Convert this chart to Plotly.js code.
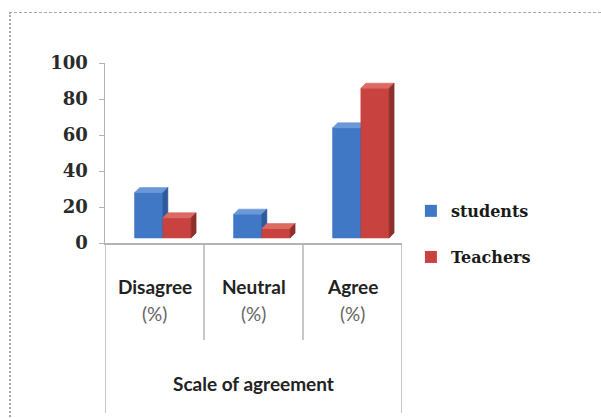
<!DOCTYPE html>
<html>
<head>
<meta charset="utf-8">
<script src="https://cdn.plot.ly/plotly-3.0.1.min.js"></script>
<style>
  html, body { margin: 0; padding: 0; background: #fff; overflow: hidden; }
  #chart { position: absolute; left: 0; top: 0; width: 601px; height: 418px; }
  #frame {
    position: absolute; left: 9px; top: 12px; width: 640px; height: 460px;
    border-top: 1px dashed #a8a8a8; border-left: 2px dotted #a8a8a8;
    pointer-events: none;
  }
</style>
</head>
<body>
<div id="chart"></div>
<div id="frame"></div>
<script>
// Survey responses by scale of agreement, in percent
const categories = ["Disagree", "Neutral", "Agree"];
const unitLabel = "(%)";
const students = [28, 16, 64];
const teachers = [14, 8, 86];
const axisTitle = "Scale of agreement";
const yTicks = [0, 20, 40, 60, 80, 100];

// Pseudo-3D column geometry (data units)
const FLOOR = 2.8;        // front face sits slightly above the axis floor
const DEPTH_X = 0.05;     // receding depth, horizontal
const DEPTH_Y = 2.8;      // receding depth, vertical
const BAR_W = 0.285;
const OFFSETS = { students: -0.2, teachers: 0.085 };

const palette = {
  students: { front: "#4178c6", top: "#6a98d8", side: "#2d5a9a" },
  teachers: { front: "#c8433f", top: "#dc6a62", side: "#8e2f2c" }
};

const xs = categories.map((_, i) => i);

// Build polygons (separated by nulls) for one face of every column in a series
function facePolygons(values, offset, face) {
  const px = [], py = [];
  values.forEach((v, i) => {
    const x0 = i + offset, x1 = x0 + BAR_W;
    let pts;
    if (face === "front") {
      pts = [[x0, FLOOR], [x0, v], [x1, v], [x1, FLOOR]];
    } else if (face === "top") {
      pts = [[x0, v], [x0 + DEPTH_X, v + DEPTH_Y], [x1 + DEPTH_X, v + DEPTH_Y], [x1, v]];
    } else {
      pts = [[x1, FLOOR], [x1, v], [x1 + DEPTH_X, v + DEPTH_Y], [x1 + DEPTH_X, FLOOR + DEPTH_Y]];
    }
    pts.push(pts[0]);
    pts.forEach(p => { px.push(p[0]); py.push(p[1]); });
    px.push(null); py.push(null);
  });
  return { x: px, y: py };
}

const traces = [];
const series = [
  { key: "students", name: "students", values: students, legend: "legend" },
  { key: "teachers", name: "Teachers", values: teachers, legend: "legend2" }
];

// Flat columns carry the legend entries; the faces are painted over them
series.forEach(s => {
  traces.push({
    type: "bar", name: s.name, x: xs,
    y: s.values.map(v => v - FLOOR), base: FLOOR,
    width: BAR_W, offset: OFFSETS[s.key],
    marker: { color: palette[s.key].front, line: { width: 0 } },
    legend: s.legend, hoverinfo: "skip"
  });
});

series.forEach(s => {
  ["front", "top", "side"].forEach(face => {
    const poly = facePolygons(s.values, OFFSETS[s.key], face);
    traces.push({
      type: "scatter", mode: "lines", x: poly.x, y: poly.y,
      fill: "toself", fillcolor: palette[s.key][face],
      line: { width: 0.6, color: palette[s.key][face] },
      connectgaps: false, showlegend: false, hoverinfo: "skip"
    });
  });
});

const labelFont = { family: "Lato, 'Open Sans', sans-serif", size: 19, color: "#222", weight: "bold" };
const unitFont = { family: "Lato, 'Open Sans', sans-serif", size: 19, color: "#666" };
const annotations = [];
categories.forEach((c, i) => {
  annotations.push({ x: i, xref: "x", y: -0.239, yref: "paper", text: c,
    showarrow: false, font: labelFont, xanchor: "center", yanchor: "middle" });
  annotations.push({ x: i, xref: "x", y: -0.394, yref: "paper", text: unitLabel,
    showarrow: false, font: unitFont, xanchor: "center", yanchor: "middle" });
});
annotations.push({ x: 1, xref: "x", y: -0.778, yref: "paper", text: axisTitle,
  showarrow: false, font: labelFont, xanchor: "center", yanchor: "middle" });

const lineStyle = { color: "#b4b4b4", width: 1.5 };
const shapes = [
  { type: "line", xref: "x", yref: "paper", x0: -0.5, x1: -0.5, y0: 0, y1: -0.944, line: lineStyle },
  { type: "line", xref: "x", yref: "paper", x0: 0.5, x1: 0.5, y0: 0, y1: -0.539, line: lineStyle },
  { type: "line", xref: "x", yref: "paper", x0: 1.5, x1: 1.5, y0: 0, y1: -0.539, line: lineStyle },
  { type: "line", xref: "x", yref: "paper", x0: 2.5, x1: 2.5, y0: 0, y1: -0.944, line: lineStyle }
];

const legendFont = { family: "'DejaVu Serif', serif", size: 16, color: "#1a1a1a", weight: "bold" };
const layout = {
  width: 601, height: 418,
  margin: { l: 105, r: 199, t: 63, b: 175 },
  paper_bgcolor: "#fff", plot_bgcolor: "#fff",
  barmode: "overlay",
  showlegend: true,
  xaxis: {
    range: [-0.5, 2.5], showgrid: false, zeroline: false,
    showticklabels: false, ticks: "",
    showline: true, linecolor: "#b4b4b4", linewidth: 1.5, fixedrange: true
  },
  yaxis: {
    range: [0, 100], tickvals: yTicks, showgrid: false, zeroline: false,
    showline: true, linecolor: "#b4b4b4", linewidth: 1.5,
    ticks: "outside", ticklen: 5, tickcolor: "#b4b4b4", tickwidth: 1,
    tickfont: { family: "'DejaVu Serif', serif", size: 18, color: "#2a2a2a", weight: "bold" },
    ticklabelstandoff: 7, fixedrange: true
  },
  legend: { x: 1.03, xanchor: "left", y: 0.178, yanchor: "middle",
    font: legendFont, bgcolor: "rgba(0,0,0,0)" },
  legend2: { x: 1.03, xanchor: "left", y: -0.078, yanchor: "middle",
    font: legendFont, bgcolor: "rgba(0,0,0,0)" },
  annotations: annotations,
  shapes: shapes
};

Plotly.newPlot("chart", traces, layout, { displayModeBar: false, staticPlot: true });
</script>
</body>
</html>
